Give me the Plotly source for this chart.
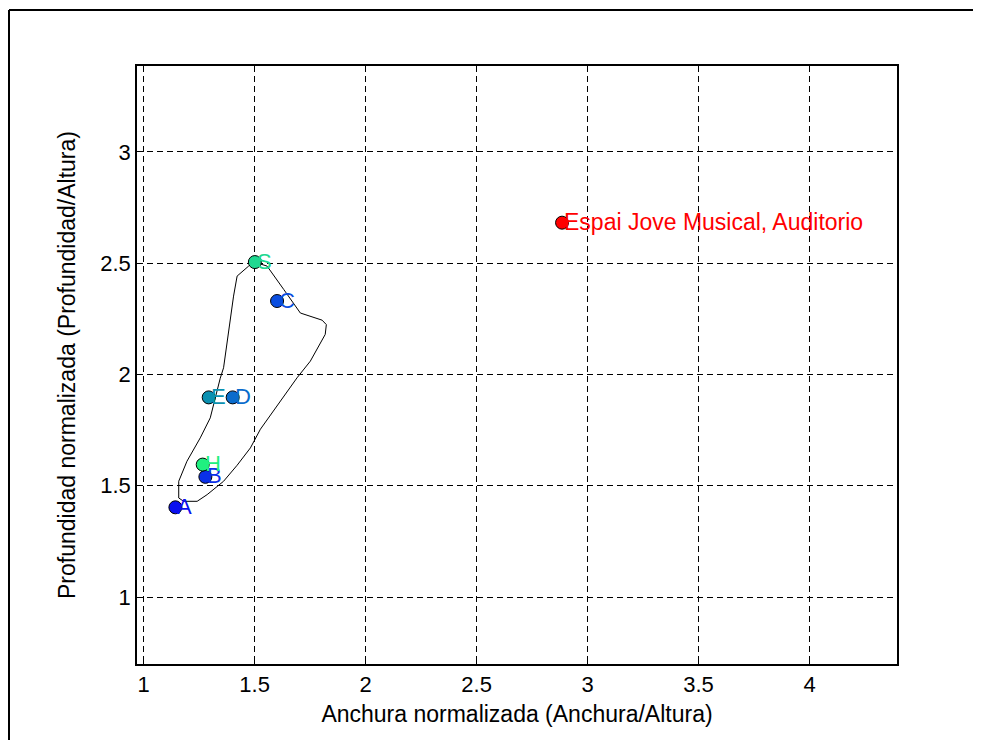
import plotly.graph_objects as go

# Data
labels = ["A", "B", "C", "D", "E", "H", "S"]
x_vals = [1.143, 1.278, 1.601, 1.401, 1.293, 1.266, 1.501]
y_vals = [1.403, 1.540, 2.330, 1.897, 1.897, 1.595, 2.505]
colors = ["#0a10f0", "#0a30e8", "#0a4ee0", "#0a6ccc", "#0a90b0", "#20f080", "#20d890"]

target_label = "Espai Jove Musical, Auditorio"
target_x = [2.885]
target_y = [2.682]
target_color = "#ff0000"

curve_x = [1.499, 1.556, 1.631, 1.706, 1.804, 1.823, 1.818, 1.751, 1.691, 1.586,
           1.526, 1.481, 1.421, 1.360, 1.286, 1.241, 1.180, 1.158, 1.158, 1.195,
           1.255, 1.300, 1.318, 1.345, 1.360, 1.376, 1.391, 1.405, 1.421, 1.473, 1.499]
curve_y = [2.505, 2.487, 2.382, 2.276, 2.244, 2.224, 2.180, 2.060, 1.985, 1.835,
           1.754, 1.670, 1.592, 1.520, 1.460, 1.430, 1.430, 1.445, 1.520, 1.610,
           1.715, 1.805, 1.880, 1.983, 2.030, 2.150, 2.249, 2.352, 2.442, 2.487, 2.505]

x_ticks = [1, 1.5, 2, 2.5, 3, 3.5, 4]
x_tick_text = ["1", "1.5", "2", "2.5", "3", "3.5", "4"]
y_ticks = [1, 1.5, 2, 2.5, 3]
y_tick_text = ["1", "1.5", "2", "2.5", "3"]

FONT = "Liberation Sans, Arial, sans-serif"

# page offset compensation (browser body margin of 8px)
ML, MT, PW, PH = 129, 58, 760, 598

fig = go.Figure()

fig.add_trace(go.Scatter(x=curve_x, y=curve_y, mode="lines",
                         line=dict(color="black", width=1), hoverinfo="skip",
                         showlegend=False))

fig.add_trace(go.Scatter(x=x_vals, y=y_vals, mode="markers",
                         marker=dict(size=13, color=colors,
                                     line=dict(color="black", width=1)),
                         showlegend=False))

fig.add_trace(go.Scatter(x=target_x, y=target_y, mode="markers",
                         marker=dict(size=13, color=target_color,
                                     line=dict(color="black", width=1)),
                         showlegend=False))

for lab, xv, yv, c in zip(labels, x_vals, y_vals, colors):
    fig.add_annotation(x=xv, y=yv, text=lab, showarrow=False, xanchor="left",
                       yanchor="middle", xshift=0, yshift=1,
                       font=dict(family=FONT, size=22, color=c))

fig.add_annotation(x=target_x[0], y=target_y[0], text=target_label, showarrow=False,
                   xanchor="left", yanchor="middle", xshift=0, yshift=1,
                   font=dict(family=FONT, size=23, color=target_color))

# Figure border frame (top and left edges; right/bottom lie outside the view)
fx0 = (1 - ML) / PW
fy1 = 1 + (MT - 2) / PH
fig.add_shape(type="line", xref="paper", yref="paper",
              x0=fx0, x1=1.3, y0=fy1, y1=fy1,
              line=dict(color="black", width=2), layer="below")
fig.add_shape(type="line", xref="paper", yref="paper",
              x0=fx0, x1=fx0, y0=-0.3, y1=fy1,
              line=dict(color="black", width=2), layer="below")

axis_common = dict(showgrid=True, gridcolor="black", gridwidth=1, griddash="6px,4px",
                   showline=True, linecolor="black", linewidth=1.5, mirror=True,
                   ticks="inside", ticklen=6, tickcolor="black", zeroline=False,
                   tickfont=dict(family=FONT, size=22, color="black"))

fig.update_layout(
    width=981, height=740,
    margin=dict(l=ML, r=981 - ML - PW, t=MT, b=740 - MT - PH),
    paper_bgcolor="white", plot_bgcolor="white",
    xaxis=dict(range=[0.97, 4.394], tickvals=x_ticks, ticktext=x_tick_text,
               title=dict(text="Anchura normalizada (Anchura/Altura)", standoff=10,
                          font=dict(family=FONT, size=23, color="black")),
               **axis_common),
    yaxis=dict(range=[0.699, 3.386], tickvals=y_ticks, ticktext=y_tick_text,
               title=dict(text="Profundidad normalizada (Profundidad/Altura)", standoff=18,
                          font=dict(family=FONT, size=23, color="black")),
               **axis_common),
)

fig.write_html("out.html")
